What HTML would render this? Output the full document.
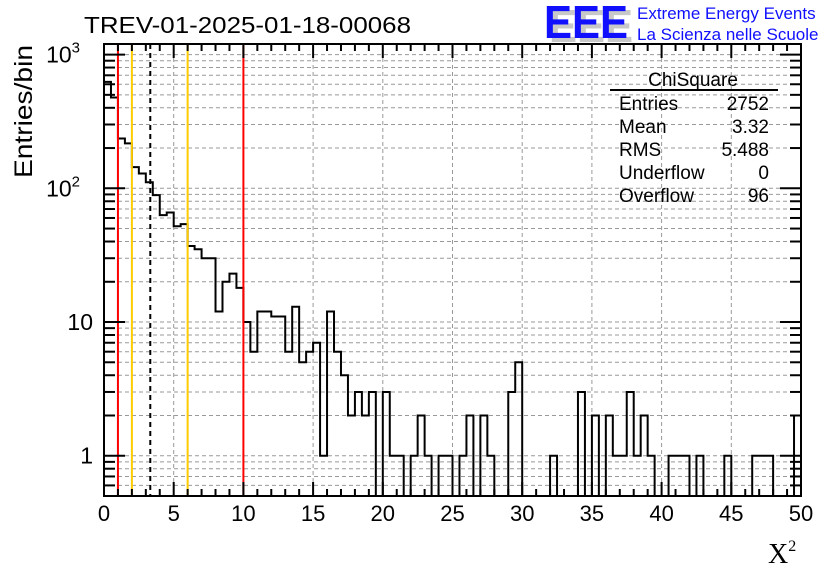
<!DOCTYPE html>
<html><head><meta charset="utf-8"><style>
body{margin:0;background:#fff;}
svg{display:block;font-family:"Liberation Sans",sans-serif;}
</style></head><body>
<svg id="chart" width="836" height="572" viewBox="0 0 836 572" xmlns="http://www.w3.org/2000/svg">
<rect width="836" height="572" fill="#fff"/>
<g id="grid"></g>
<g id="hist"></g>
<g id="vlines"></g>
<g id="axes"></g>
<text x="84" y="33" font-size="23" fill="#000" textLength="327" lengthAdjust="spacingAndGlyphs">TREV-01-2025-01-18-00068</text>
<g>
<text x="549" y="42" font-size="46" font-weight="bold" fill="#c8c8c8" textLength="84" lengthAdjust="spacingAndGlyphs">EEE</text>
<text x="544" y="38" font-size="46" font-weight="bold" fill="#1010ff" textLength="84" lengthAdjust="spacingAndGlyphs">EEE</text>
<text x="637" y="19" font-size="17" fill="#1010ff">Extreme Energy Events</text>
<text x="637" y="40" font-size="17" fill="#1010ff">La Scienza nelle Scuole</text>
</g>
<g font-size="19" fill="#000">
<text x="693" y="86" text-anchor="middle">ChiSquare</text>
<line x1="610" y1="90" x2="778" y2="90" stroke="#000" stroke-width="2"/>
<text x="619" y="110">Entries</text><text x="769" y="110" text-anchor="end">2752</text>
<text x="619" y="133">Mean</text><text x="769" y="133" text-anchor="end">3.32</text>
<text x="619" y="156">RMS</text><text x="769" y="156" text-anchor="end">5.488</text>
<text x="619" y="179">Underflow</text><text x="769" y="179" text-anchor="end">0</text>
<text x="619" y="202">Overflow</text><text x="769" y="202" text-anchor="end">96</text>
</g>
<text transform="translate(32,178) rotate(-90)" font-size="25" fill="#000" textLength="133" lengthAdjust="spacingAndGlyphs">Entries/bin</text>
<text x="768" y="563" font-size="28" font-family="Liberation Serif,serif" fill="#000">X<tspan font-size="16" dy="-12">2</tspan></text>
</svg>
<script>
const counts=[625,478,236,217,144,129,111,89,63,66,52,54,37,35,30,30,12,20,23,18,
10,6,12,12,11,11,6,13,5,6,7,1,12,6,4,2,3,2,3,0,
3,1,1,0,1,2,1,0,1,1,0,1,2,0,2,1,0,0,3,5,
0,0,0,0,1,0,0,0,3,0,2,0,2,1,1,3,1,2,1,0,
0,1,1,1,0,1,0,0,0,1,0,0,0,1,1,1,0,0,0,2];
const xTicks=[0,5,10,15,20,25,30,35,40,45,50];
const yTicks=[1,10,100,1000];
const yTickLabels=["1","10","10<tspan font-size='15' dy='-10'>2</tspan>","10<tspan font-size='15' dy='-10'>3</tspan>"];
const markers=[{x:1,c:"#ff0000"},{x:10,c:"#ff0000"},{x:2,c:"#ffcc00"},{x:6,c:"#ffcc00"},{x:3.32,c:"#000",d:"5,4"}];
const binWidth=0.5;
const L=104,R=801,T=44,B=496,xMin=0,xMax=50,yMin=0.5,yMax=1200;
const NS="http://www.w3.org/2000/svg";
const X=v=>L+(v-xMin)/(xMax-xMin)*(R-L);
const Y=v=>B-(Math.log10(v)-Math.log10(yMin))/(Math.log10(yMax)-Math.log10(yMin))*(B-T);
function mk(tag,attrs,parent){const e=document.createElementNS(NS,tag);for(const k in attrs)e.setAttribute(k,attrs[k]);parent.appendChild(e);return e;}
const grid=document.getElementById('grid'),axes=document.getElementById('axes'),hist=document.getElementById('hist'),vl=document.getElementById('vlines');
for(const t of xTicks){if(t>xMin&&t<xMax){const g=mk('line',{x1:X(t),x2:X(t),y1:T,y2:B,stroke:'#999','stroke-dasharray':'4,3','stroke-width':1},grid);

}}
for(let d=0.1;d<=1000;d*=10){for(let m=1;m<10;m++){const v=Math.round(d*m*1000)/1000;if(v>yMin&&v<yMax){const g=mk('line',{x1:L,x2:R,y1:Y(v),y2:Y(v),stroke:'#999','stroke-dasharray':'4,3','stroke-width':1},grid);


const big=(m===1);
mk('line',{x1:L,x2:L+(big?21:11),y1:Y(v),y2:Y(v),stroke:'#000','stroke-width':2},axes);
mk('line',{x1:R,x2:R-(big?21:11),y1:Y(v),y2:Y(v),stroke:'#000','stroke-width':2},axes);}}}
let d=`M${X(0)},${B}`;
counts.forEach((c,i)=>{const y=c>0?Y(c):B;d+=` L${X(i*binWidth)},${y} L${X((i+1)*binWidth)},${y}`;});
d+=` L${X(xMax)},${B}`;
const p=mk('path',{d:d,fill:'none',stroke:'#000','stroke-width':2},hist);


for(const m of markers){const l=mk('line',{x1:X(m.x),x2:X(m.x),y1:T,y2:B,stroke:m.c,'stroke-width':2},vl);
if(m.d)l.setAttribute('stroke-dasharray',m.d);

}
mk('rect',{x:L,y:T,width:R-L,height:B-T,fill:'none',stroke:'#000','stroke-width':2},axes);
for(let v=xMin;v<=xMax;v++){const big=v%5===0;
mk('line',{x1:X(v),x2:X(v),y1:B,y2:B-(big?14:7),stroke:'#000','stroke-width':2},axes);
mk('line',{x1:X(v),x2:X(v),y1:T,y2:T+(big?14:7),stroke:'#000','stroke-width':2},axes);}
xTicks.forEach(t=>{const e=mk('text',{x:X(t),y:521,'text-anchor':'middle','font-size':22},axes);e.textContent=t;

});
yTicks.forEach((t,i)=>{const e=mk('text',{x:93,y:Y(t)+8,'text-anchor':'end','font-size':23},axes);e.innerHTML=yTickLabels[i];
if(i>=2){e.setAttribute('x',80);}

});
</script>
</body></html>
